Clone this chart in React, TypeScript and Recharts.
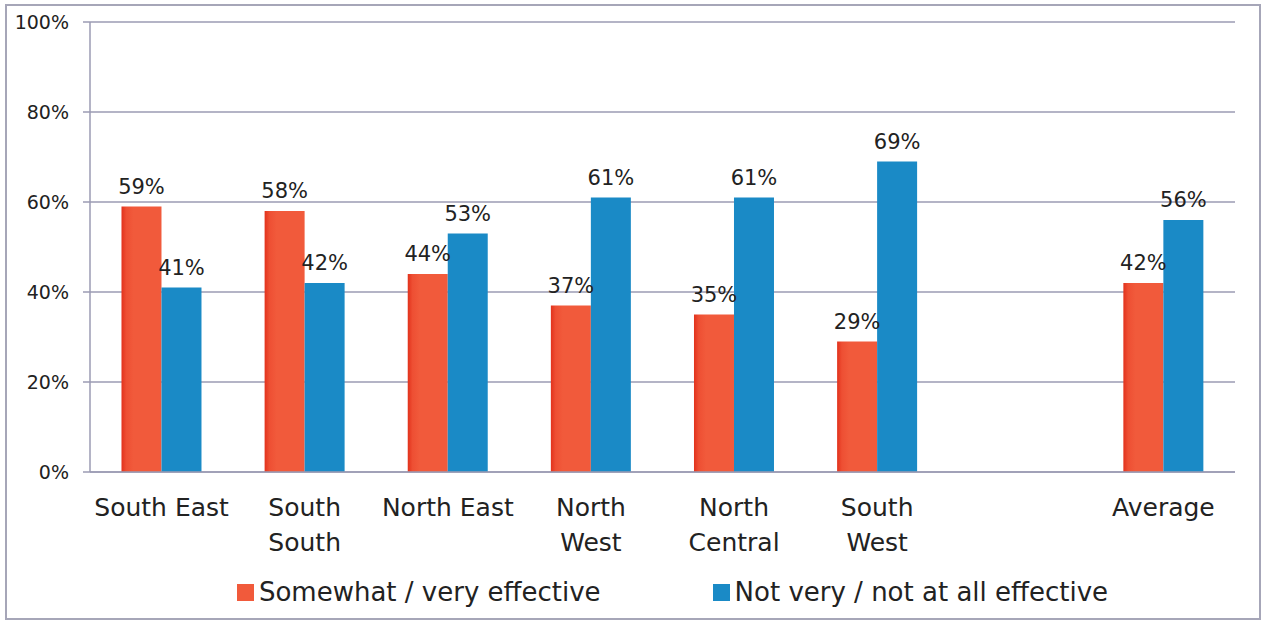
import { Bar, BarChart, CartesianGrid, LabelList, Legend, XAxis, YAxis } from "recharts";

const regions = [
  "South East",
  "South\nSouth",
  "North East",
  "North\nWest",
  "North\nCentral",
  "South\nWest",
  "",
  "Average",
];
const effective = [59, 58, 44, 37, 35, 29, null, 42];
const notEffective = [41, 42, 53, 61, 61, 69, null, 56];
const yTicks = [0, 20, 40, 60, 80, 100];

const seriesNames = ["Somewhat / very effective", "Not very / not at all effective"];
const RED = "#F15A3B";
const BLUE = "#1A8AC6";
const FONT = "'DejaVu Sans', sans-serif";

const data = regions.map((region, i) => ({
  region,
  effective: effective[i],
  notEffective: notEffective[i],
}));

const RegionTick = (props: any) => {
  const { x, y, payload } = props;
  const lines = String(payload.value).split("\n");
  return (
    <text x={x} y={y} textAnchor="middle" fill="#222" fontSize={25} fontFamily={FONT}>
      {lines.map((line, i) => (
        <tspan key={i} x={x} dy={i === 0 ? 36 : 35}>
          {line}
        </tspan>
      ))}
    </text>
  );
};

const LegendContent = () => (
  <div
    style={{
      position: "relative",
      top: 15,
      display: "flex",
      justifyContent: "center",
      gap: 112,
      fontFamily: FONT,
      fontSize: 26,
      color: "#222",
      paddingLeft: 110,
    }}
  >
    {[RED, BLUE].map((c, i) => (
      <span key={i} style={{ display: "flex", alignItems: "center" }}>
        <span
          style={{ width: 17, height: 17, background: c, marginRight: 5, display: "inline-block" }}
        />
        {seriesNames[i]}
      </span>
    ))}
  </div>
);

const pct = (v: any) => (v == null ? "" : `${v}%`);
const labelStyle = { fill: "#222", fontSize: 21, fontFamily: FONT };

export default function App() {
  return (
    <div style={{ position: "absolute", left: 0, top: 0, width: 1264, height: 620, background: "#fff" }}>
      <div
        style={{
          position: "absolute",
          left: 5,
          top: 4,
          width: 1252,
          height: 612,
          border: "2px solid #a6a6b8",
        }}
      />
      <BarChart
        width={1264}
        height={620}
        data={data}
        barGap={0}
        barCategoryGap="22%"
        margin={{ top: 22, right: 29, left: 0, bottom: 16 }}
      >
        <defs>
          <linearGradient id="redFill" x1="0" y1="0" x2="1" y2="0">
            <stop offset="0" stopColor="#E2321C" />
            <stop offset="0.12" stopColor="#EE4F33" />
            <stop offset="0.3" stopColor={RED} />
            <stop offset="1" stopColor={RED} />
          </linearGradient>
        </defs>
        <CartesianGrid vertical={false} stroke="#9b9bb3" strokeWidth={1.5} />
        <YAxis
          domain={[0, 100]}
          ticks={yTicks}
          width={90}
          tickFormatter={(v) => `${v}%`}
          axisLine={{ stroke: "#9b9bb3", strokeWidth: 1.5 }}
          tickLine={{ stroke: "#9b9bb3", strokeWidth: 1.5 }}
          tickSize={7}
          tickMargin={14}
          tick={{ fill: "#222", fontSize: 19, fontFamily: FONT }}
        />
        <XAxis
          dataKey="region"
          height={90}
          interval={0}
          axisLine={{ stroke: "#9b9bb3", strokeWidth: 1.5 }}
          tickLine={false}
          tick={<RegionTick />}
        />
        <Legend verticalAlign="bottom" height={42} content={<LegendContent />} />
        <Bar dataKey="effective" name={seriesNames[0]} fill="url(#redFill)" isAnimationActive={false}>
          <LabelList dataKey="effective" position="top" offset={13} formatter={pct} style={labelStyle} />
        </Bar>
        <Bar dataKey="notEffective" name={seriesNames[1]} fill={BLUE} isAnimationActive={false}>
          <LabelList dataKey="notEffective" position="top" offset={13} formatter={pct} style={labelStyle} />
        </Bar>
      </BarChart>
    </div>
  );
}
